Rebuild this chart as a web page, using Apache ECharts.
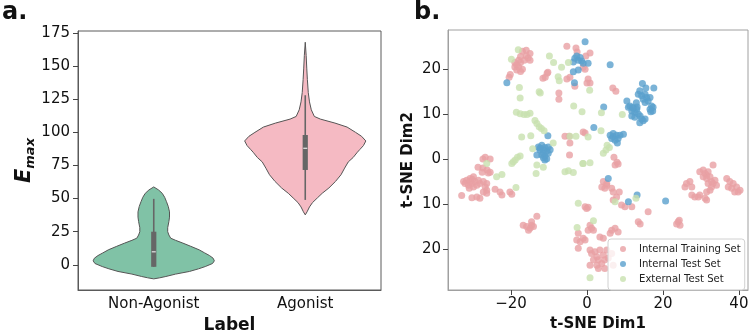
<!DOCTYPE html>
<html>
<head>
<meta charset="utf-8">
<script src="https://cdn.jsdelivr.net/npm/echarts@6/dist/echarts.min.js"></script>
<style>
html, body { margin: 0; padding: 0; background: #fff; }
#chart { width: 755px; height: 333px; }
</style>
</head>
<body>
<div id="chart"></div>
<script>
// panel a: violin outlines, [Emax, relative half width]
const labels = ["Non-Agonist", "Agonist"];
const nonAgonistShape = [
  [-10.6, 0], [-9.8, 0.1], [-8.8, 0.2], [-7, 0.36], [-5, 0.59], [-3, 0.74], [-1.3, 0.85],
  [1, 0.97], [3, 1], [5, 0.98], [7, 0.92], [9, 0.84], [11.3, 0.75], [14, 0.61], [16.4, 0.48],
  [18.5, 0.36], [20.1, 0.28], [22.5, 0.25], [25, 0.23], [28, 0.23], [32.7, 0.25], [36, 0.26],
  [40, 0.26], [44, 0.24], [47.7, 0.21], [51, 0.18], [54, 0.14], [56.5, 0.08], [58.8, 0]
];
const agonistShape = [
  [37.7, 0], [40, 0.03], [43.7, 0.07], [47, 0.12], [50.5, 0.2], [54, 0.28], [58, 0.39],
  [63, 0.5], [68, 0.59], [73, 0.65], [77.7, 0.71], [81, 0.79], [85, 0.86], [87, 0.9],
  [90, 0.96], [93.5, 1], [97, 0.93], [100, 0.83], [104, 0.69], [107, 0.49], [110, 0.25],
  [112, 0.15], [117, 0.1], [123, 0.07], [130, 0.05], [140, 0.035], [148.5, 0.025],
  [158, 0.015], [168, 0]
];
// [whisker low, q1, median, q3, whisker high]
const nonAgonistBox = [-1.5, -1.5, 9.8, 25, 49.8];
const agonistBox = [49, 71.6, 88, 98, 128];
const emaxTicks = [0, 25, 50, 75, 100, 125, 150, 175];

// panel b: t-SNE embedding
const dim1Ticks = [-20, 0, 20, 40];
const dim2Ticks = [-20, -10, 0, 10, 20];
const trainingSet = [
  [-18.5, 21], [-18, 20.5], [-17.5, 21.5], [-19, 21.5], [-18, 22], [-17, 20], [-19, 20.5],
  [-18.5, 19.8], [-17.5, 22.8], [-16, 23], [-15.5, 22.5], [-16.5, 22], [-15, 23.5], [-16, 24.2],
  [-17, 24], [-15, 22], [-17.5, 19.5], [-20.5, 18.2], [-20.2, 18.8],
  [-11, 18.2], [-10.5, 19.1], [-11.6, 18], [-10.3, 19.3], [-7.4, 14.7], [-7.4, 13.3], [-5.3, 25.1],
  [-2.9, 24.7], [-2.6, 23.8], [-0.3, 22.9], [0.8, 23.6], [-1, 20.4], [-0.5, 20], [-5.3, 17.8],
  [-4.5, 18.2], [0.3, 17.8], [0.8, 16.9], [0, 16.9], [-3.2, 16.2], [6.8, 15.8], [7.6, 15.1],
  [-5.8, 5.1], [-4.7, 5.1], [-1, 6], [-0.5, 5.8], [-4.5, 3.6], [-4.6, 0.9], [7.1, 0.4],
  [7.9, -0.7], [8.2, -1.1], [7.4, -1.3],
  [-27.4, 0], [-26.8, 0.4], [-25.5, 0], [-28.7, -1.8], [-27.4, -2], [-26.3, -2.4], [-26, -3.1],
  [-25.5, -2.9], [-27.6, -2.9], [-32.5, -5], [-31.7, -4.7], [-30.8, -4.3], [-29.9, -3.9],
  [-30.3, -5.4], [-31.2, -5.8], [-29.5, -5], [-29, -5.8], [-29.9, -6.2], [-32.1, -5.4],
  [-30.8, -5], [-28.6, -4.7], [-28.2, -5.4], [-31, -6.5], [-30.2, -4.5], [-27.3, -5],
  [-26.4, -5.4], [-26.8, -6.2], [-26.4, -6.9], [-27.3, -7.3], [-33, -8.1], [-30.3, -8.6],
  [-29, -8.4], [-28.2, -8.7], [-26.4, -7.6], [-24.2, -6.7], [-22.9, -7.3], [-22.4, -8],
  [-20.3, -7.3], [-19.8, -7.8],
  [-16.8, -14.7], [-15.9, -15], [-15, -15.4], [-14.6, -14.7], [-14.1, -15], [-14.6, -13.9],
  [-13.2, -12.7], [-15.4, -15.8],
  [-0.5, -10.6], [-0.1, -11], [0.3, -10.7], [0.8, -14.7], [1.2, -15.4], [0.3, -15.8], [1.7, -15.8],
  [-2.3, -16.5], [-2.7, -18], [-1.8, -18.4], [-0.5, -18], [-2.3, -19.8], [-1, -17.6],
  [0.8, -20.2], [1.2, -21], [2.1, -20.6], [3.4, -20.2], [2.6, -21.7], [3, -22.4], [1.7, -22.4],
  [3.9, -23.2], [2.6, -23.6], [0.8, -23.6], [4.7, -22.4], [4.3, -21.3], [5.2, -20.2],
  [3.4, -17.3], [4.3, -17.6], [6.5, -15.8], [7.4, -15.4], [8.2, -16.2], [6.1, -16.5],
  [4.7, -24.3], [3, -24.3], [5.6, -22], [6.9, -23.6], [6.5, -21],
  [4.3, -5], [5.2, -5.8], [4.7, -6.5], [6.5, -6.5], [6.9, -7.3], [8.5, -7.3], [6.9, -9.1],
  [7.8, -8.4], [9.1, -10.2], [10, -10.6], [11.8, -10.6], [13.5, -13.9], [16.1, -11.7],
  [14, -14.4], [3.9, -6.2], [5.2, -5.4],
  [24, -13.9], [24.5, -14.7], [23.6, -14.4], [24.3, -13.6],
  [33.2, -1.3], [29.7, -2.8], [30.6, -2.4], [31.1, -3.2], [31.5, -3.6], [31.9, -2.8], [32.4, -3.9],
  [31.5, -4.3], [32.8, -5], [30.6, -3.9], [33.2, -5.4], [31.9, -5.4], [32.8, -6.2], [32.4, -6.9],
  [31.5, -7.3], [33.7, -4.7], [34.1, -5.8], [26.2, -5.4], [27.1, -5], [25.8, -6.2], [27.6, -6.2],
  [28.4, -8.4], [29.3, -8.4], [29.7, -8], [27.6, -8], [31.5, -9.1], [31.1, -8.7],
  [36.8, -4.3], [37.6, -5], [38.5, -5.4], [39.4, -6.2], [39.8, -7.3], [37.2, -6.2], [38.9, -7.3],
  [40.3, -6.9], [38.1, -6.5]
];
const internalTestSet = [
  [-21.1, 17], [-0.5, 26.1], [-3.2, 22.4], [-2.7, 22.9], [-2.3, 22], [-1.8, 22.6], [-3.6, 21.6],
  [-1, 21.3], [0.3, 21.3], [-1.4, 21.8], [-3.6, 19.4], [-2.3, 19.8], [-3.3, 17], [6.1, 21],
  [4.4, 11.6], [1.8, 7], [-10.3, 5.2],
  [-12.8, 2.7], [-11.9, 3.1], [-11.1, 2.6], [-10.2, 2.7], [-12.4, 2], [-11.5, 2], [-10.6, 1.8],
  [-9.7, 2.1], [-13.2, 0.9], [-11.9, 0.9], [-11.1, 0.7], [-10.2, 1.3], [-11.1, -0.2],
  [-11.5, 0.3], [-10.6, 0.1], [-12.4, 2.4], [-11.5, 1.3],
  [6.1, 5.3], [6.5, 4.6], [6.9, 5], [7.8, 5.3], [8.2, 4.6], [8.7, 5.3], [7.4, 4.2], [6.9, 5.7],
  [8, 3.6], [9.6, 5.5],
  [14.6, 16.8], [15.5, 15.8], [17.6, 15.8], [13.9, 15.2], [13.5, 14.4], [14.4, 14.1], [15.3, 14.4],
  [15.7, 13.7], [16.1, 12.9], [14.8, 13.3], [15.3, 12.6], [16.6, 13.7], [10.5, 12.9], [11.3, 11.8],
  [10.9, 11.5], [12.2, 11.3], [11.8, 10.7], [12.6, 10.4], [13.1, 11.1], [11.8, 9.6], [12.6, 9.3],
  [13.5, 10], [14.4, 8.9], [13.9, 8.1], [14.8, 8.5], [15.3, 8.9], [16.6, 11.1], [17, 11.8],
  [17.4, 11.5], [17.3, 10.7], [16.8, 10.5], [13.2, 11.6], [12, 11.5], [13, 12.5], [14, 9.6],
  [5.6, -4.3], [13.2, -8], [10.9, -9.5], [20.7, -9.3]
];
const externalTestSet = [
  [-18.1, 24.3], [-19.9, 22.2], [-17.8, 15.9], [-17.6, 13.6], [-12.6, 15], [-12.3, 14.7],
  [-18.6, 10.4], [-17.6, 10.1], [-16.6, 9.9], [-15.8, 9.9], [-15, 10.2],
  [-13.7, 8.6], [-13.2, 7.9], [-12.6, 7.2], [-12, 6.8], [-11.3, 6.3],
  [-17.2, 4.9], [-14.8, 5.2], [-14.3, 2.3],
  [-9.9, 22.9], [-8.8, 21.5], [-6.7, 20.4], [-4.9, 21.5], [-7.6, 18.3], [-7.3, 17.4], [0.7, 15.3],
  [-3.5, 11.8], [-1.3, 10.5], [3.8, 10.3], [9.3, 9.9],
  [-4.5, 5.1], [-2.9, 5.1], [0.3, 4.9], [-8.9, 3.6], [5.3, 3.1], [5.9, 2.6], [5, 2], [4.3, 1.3],
  [3.7, 6.3], [-1, -1], [0.8, -0.8],
  [-26.4, -1], [-23.8, -3.9], [-22.4, -3.4], [-18.7, -6.3], [-19.8, -1], [-18.9, -0.2],
  [-18.3, 0.4], [-17.6, 0.7], [-19.4, -0.6], [-13.4, -3.2], [-13.2, -1.3], [-11.5, -1.8],
  [-5.8, -2.8], [-4.9, -2.6], [-3.6, -3], [-1.1, -1],
  [-2.3, -9.8], [1.7, -13.7], [-2.6, -15.2], [0.8, -26.4], [7.4, -9.5], [12.9, -8.7]
];

const violinShapes = [nonAgonistShape, agonistShape];
const violinBoxes = [nonAgonistBox, agonistBox];
const violinColors = ["#80c2a6", "#f5bac3"];

function renderViolin(params, api) {
  const idx = api.value(0);
  const shape = violinShapes[idx];
  const box = violinBoxes[idx];
  const halfMax = api.size([1, 0])[0] * 0.4;
  const left = [];
  const right = [];
  shape.forEach(function (p) {
    const c = api.coord([idx, p[0]]);
    left.push([c[0] - p[1] * halfMax, c[1]]);
    right.unshift([c[0] + p[1] * halfMax, c[1]]);
  });
  const lo = api.coord([idx, box[0]]);
  const q1 = api.coord([idx, box[1]]);
  const med = api.coord([idx, box[2]]);
  const q3 = api.coord([idx, box[3]]);
  const hi = api.coord([idx, box[4]]);
  return {
    type: "group",
    children: [
      {
        type: "polygon",
        shape: { points: left.concat(right) },
        style: { fill: violinColors[idx], stroke: "#555", lineWidth: 1 }
      },
      {
        type: "line",
        shape: { x1: hi[0], y1: hi[1], x2: lo[0], y2: lo[1] },
        style: { stroke: "#666", lineWidth: 1.6 }
      },
      {
        type: "rect",
        shape: { x: q3[0] - 2.6, y: q3[1], width: 5.2, height: q1[1] - q3[1] },
        style: { fill: "#666" }
      },
      {
        type: "line",
        shape: { x1: med[0] - 2, y1: med[1], x2: med[0] + 2, y2: med[1] },
        style: { stroke: "#fff", lineWidth: 1 }
      }
    ]
  };
}

const font = "DejaVu Sans";
const chart = echarts.init(document.getElementById("chart"));
chart.setOption({
  animation: false,
  textStyle: { fontFamily: font },
  title: [
    { text: "a.", left: 2, top: 1, padding: 0, textStyle: { fontSize: 24, fontWeight: "bold", color: "#111", fontFamily: font } },
    { text: "b.", left: 414, top: 1, padding: 0, textStyle: { fontSize: 24, fontWeight: "bold", color: "#111", fontFamily: font } }
  ],
  grid: [
    { left: 78, top: 31, width: 303, height: 259, show: true, borderColor: "#5a5a5a", borderWidth: 1, outerBoundsMode: "none", containLabel: false },
    { left: 448, top: 30, width: 300, height: 260, show: true, borderColor: "#a0a0a0", borderWidth: 1, outerBoundsMode: "none", containLabel: false }
  ],
  legend: {
    data: ["Internal Training Set", "Internal Test Set", "External Test Set"],
    orient: "vertical",
    left: 608,
    top: 239,
    icon: "circle",
    itemWidth: 22,
    itemHeight: 6,
    itemGap: 3,
    padding: [4, 4, 5, 12],
    backgroundColor: "rgba(255,255,255,0.8)",
    borderColor: "#d0d0d0",
    borderWidth: 1,
    borderRadius: 3,
    selectedMode: false,
    textStyle: { fontSize: 10.1, color: "#222", fontFamily: font, lineHeight: 12 }
  },
  xAxis: [
    {
      type: "category",
      gridIndex: 0,
      data: labels,
      axisLine: { onZero: false, lineStyle: { color: "#5a5a5a" } },
      axisTick: { alignWithLabel: true, length: 5, lineStyle: { color: "#444" } },
      axisLabel: { fontSize: 15, color: "#111", margin: 7 },
      name: "Label",
      nameLocation: "middle",
      nameGap: 27,
      nameTextStyle: { fontSize: 17, fontWeight: "bold", color: "#111" }
    },
    {
      type: "value",
      gridIndex: 1,
      min: -36.6,
      max: 42.4,
      splitLine: { show: false },
      axisLine: { onZero: false, lineStyle: { color: "#a0a0a0" } },
      axisTick: { customValues: dim1Ticks, length: 5, lineStyle: { color: "#444" } },
      axisLabel: {
        customValues: dim1Ticks,
        fontSize: 15,
        color: "#111",
        margin: 7,
        formatter: function (v) { return v < 0 ? "\u2212" + Math.abs(v) : String(v); }
      },
      name: "t-SNE Dim1",
      nameLocation: "middle",
      nameGap: 27,
      nameTextStyle: { fontSize: 15, fontWeight: "bold", color: "#111" }
    }
  ],
  yAxis: [
    {
      type: "value",
      gridIndex: 0,
      min: -19,
      max: 176.5,
      splitLine: { show: false },
      axisLine: { show: true, onZero: false, lineStyle: { color: "#5a5a5a" } },
      axisTick: { show: true, customValues: emaxTicks, length: 5, lineStyle: { color: "#444" } },
      axisLabel: { customValues: emaxTicks, fontSize: 15, color: "#111", margin: 8 },
      name: "{e|E}{m|max}",
      nameLocation: "middle",
      nameRotate: 90,
      nameGap: 38,
      nameTextStyle: {
        rich: {
          e: { fontSize: 21, fontWeight: "bold", fontStyle: "italic", color: "#111", lineHeight: 26, fontFamily: font },
          m: { fontSize: 13, fontWeight: "bold", fontStyle: "italic", color: "#111", lineHeight: 13, verticalAlign: "bottom", fontFamily: font }
        }
      }
    },
    {
      type: "value",
      gridIndex: 1,
      min: -29.1,
      max: 28.7,
      splitLine: { show: false },
      axisLine: { show: true, onZero: false, lineStyle: { color: "#a0a0a0" } },
      axisTick: { show: true, customValues: dim2Ticks, length: 5, lineStyle: { color: "#444" } },
      axisLabel: {
        customValues: dim2Ticks,
        fontSize: 15,
        color: "#111",
        margin: 7,
        formatter: function (v) { return String(Math.abs(v)); }
      },
      name: "t-SNE Dim2",
      nameLocation: "middle",
      nameRotate: 90,
      nameGap: 32,
      nameTextStyle: { fontSize: 15, fontWeight: "bold", color: "#111" }
    }
  ],
  series: [
    {
      type: "custom",
      name: "violin",
      xAxisIndex: 0,
      yAxisIndex: 0,
      renderItem: renderViolin,
      data: [[0, nonAgonistBox[2]], [1, agonistBox[2]]]
    },
    {
      type: "scatter",
      name: "Internal Training Set",
      xAxisIndex: 1,
      yAxisIndex: 1,
      symbolSize: 7,
      itemStyle: { color: "#e8a0a4" },
      data: trainingSet
    },
    {
      type: "scatter",
      name: "Internal Test Set",
      xAxisIndex: 1,
      yAxisIndex: 1,
      symbolSize: 7,
      itemStyle: { color: "#5aa0cd" },
      data: internalTestSet
    },
    {
      type: "scatter",
      name: "External Test Set",
      xAxisIndex: 1,
      yAxisIndex: 1,
      symbolSize: 7,
      itemStyle: { color: "#c8e1af" },
      data: externalTestSet
    }
  ]
});
</script>
</body>
</html>
